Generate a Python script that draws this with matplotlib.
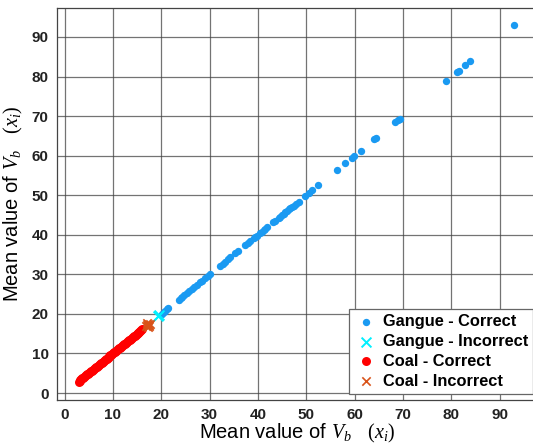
import matplotlib
matplotlib.use('Agg')
import matplotlib.pyplot as plt

plt.rcParams.update({
    'font.family': 'Liberation Sans',
    'mathtext.fontset': 'custom',
    'mathtext.rm': 'Liberation Serif',
    'mathtext.it': 'Liberation Serif:italic',
})

# Mean value of V_b per sample, plotted against itself, grouped by class/outcome
coal_ok = [2.9, 3.1, 3.3, 3.5, 3.7, 3.9, 4.1, 4.3, 4.5, 4.7, 4.9, 5.1, 5.3, 5.5,
           5.7, 5.9, 6.1, 6.3, 6.5, 6.7, 6.9, 7.1, 7.3, 7.5, 7.7, 7.9, 8.1, 8.3,
           8.5, 8.7, 8.9, 9.1, 9.3, 9.5, 9.7, 9.9, 10.1, 10.3, 10.5, 10.7, 10.9,
           11.1, 11.3, 11.5, 11.7, 11.9, 12.1, 12.3, 12.5, 12.7, 12.9, 13.1,
           13.3, 13.5, 13.7, 13.9, 14.1, 14.3, 14.5, 14.7, 14.9, 15.1, 15.3,
           15.5, 15.7, 15.9, 16.1]
coal_bad_x = [16.8, 17.0, 17.2, 17.3, 17.5, 17.7, 17.4, 17.1]
coal_bad_y = [16.9, 17.3, 16.8, 17.5, 17.2, 17.4, 17.0, 17.6]
gangue_bad_x = [19.3, 19.6]
gangue_bad_y = [19.4, 19.7]
gangue_ok = [20.1, 20.5, 20.8, 21.2, 21.5, 23.6, 24.0, 24.3, 24.8, 25.3, 25.8,
             26.3, 26.8, 27.4, 28.0, 28.4, 29.1, 29.6, 30.1, 32.2, 32.7, 33.2,
             33.8, 34.3, 35.3, 35.9, 37.4, 38.0, 38.4, 39.1, 39.4, 39.8, 40.5,
             40.8, 41.2, 41.5, 41.9, 43.2, 43.6, 44.3, 44.6, 45.0, 45.3, 45.7,
             46.0, 46.4, 46.7, 47.1, 47.4, 47.8, 48.4, 49.8, 50.5, 51.2, 52.5,
             56.4, 58.1, 59.5, 59.8, 61.3, 64.1, 64.4, 68.4, 68.9, 69.3, 78.9,
             81.1, 81.5, 82.8, 83.8, 92.9]
ticks = [0, 10, 20, 30, 40, 50, 60, 70, 80, 90]

fig = plt.figure(figsize=(5.33, 4.48), dpi=100)
ax = fig.add_axes([0.107, 0.107, 0.903, 0.875])

ax.scatter(gangue_ok, gangue_ok, s=28, color='#1a9af2', lw=0, label='Gangue - Correct', zorder=3)
ax.scatter(gangue_bad_x, gangue_bad_y, s=50, marker='x', color='#00f0ff', lw=1.4,
           label='Gangue - Incorrect', zorder=4)
ax.scatter(coal_ok, coal_ok, s=42, color='#ff0000', lw=0, label='Coal - Correct', zorder=3)
ax.scatter(coal_bad_x, coal_bad_y, s=36, marker='x', color='#d95319', lw=1.2,
           label='Coal - Incorrect', zorder=4)

ax.set_xlim(-1.55, 98.0)
ax.set_ylim(-1.77, 97.3)
ax.set_xticks(ticks)
ax.set_yticks(ticks)
ax.tick_params(length=0, labelsize=11, pad=6, labelcolor='#222222')
for lab in ax.get_xticklabels() + ax.get_yticklabels():
    lab.set_fontweight('bold')
ax.grid(True, color='#444444', lw=0.9, alpha=0.75)
ax.set_axisbelow(True)
for sp in ax.spines.values():
    sp.set_color('#444444')
    sp.set_linewidth(0.9)

ax.set_xlabel('Mean value of $V_b$   $(x_i)$', fontsize=14.5, labelpad=0)
ax.set_ylabel('Mean value of $V_b$   $(x_i)$', fontsize=14.5, labelpad=5)

leg = ax.legend(loc='lower right', bbox_to_anchor=(1.0, 0.004),
                prop={'weight': 'bold', 'size': 11.8}, fancybox=False,
                edgecolor='#666666', framealpha=1, borderpad=0.3,
                labelspacing=0.3, handletextpad=0.3, handlelength=1.5,
                borderaxespad=0.3, scatterpoints=1)
leg.get_frame().set_linewidth(0.9)

fig.savefig('out.png', dpi=100)
